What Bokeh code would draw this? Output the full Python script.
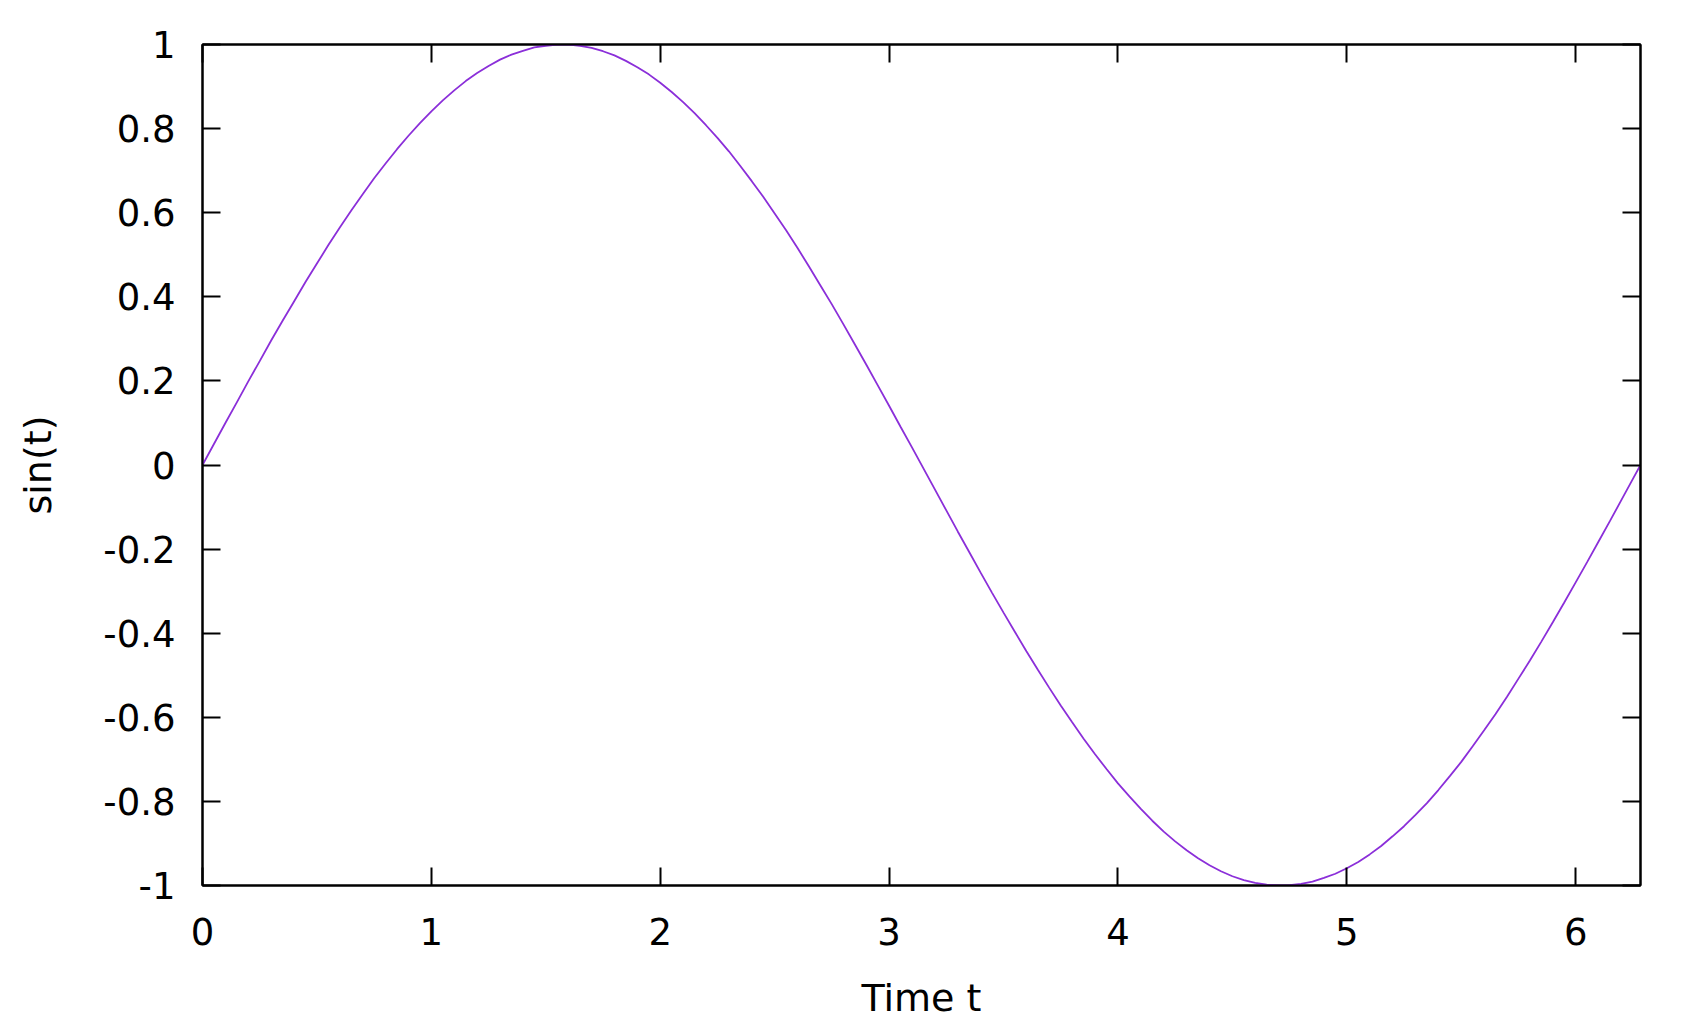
from bokeh.plotting import figure
from bokeh.models import Range1d, FixedTicker, LinearAxis
from bokeh.embed import file_html
from bokeh.resources import INLINE

# Data: time t and sin(t)
t_values = [0.00, 0.05, 0.10, 0.15, 0.20, 0.25, 0.30, 0.35, 0.40, 0.45, 0.50, 0.55,
            0.60, 0.65, 0.70, 0.75, 0.80, 0.85, 0.90, 0.95, 1.00, 1.05, 1.10, 1.15,
            1.20, 1.25, 1.30, 1.35, 1.40, 1.45, 1.50, 1.55, 1.571, 1.60, 1.65, 1.70,
            1.75, 1.80, 1.85, 1.90, 1.95, 2.00, 2.05, 2.10, 2.15, 2.20, 2.25, 2.30,
            2.35, 2.40, 2.45, 2.50, 2.55, 2.60, 2.65, 2.70, 2.75, 2.80, 2.85, 2.90,
            2.95, 3.00, 3.05, 3.10, 3.15, 3.20, 3.25, 3.30, 3.35, 3.40, 3.45, 3.50,
            3.55, 3.60, 3.65, 3.70, 3.75, 3.80, 3.85, 3.90, 3.95, 4.00, 4.05, 4.10,
            4.15, 4.20, 4.25, 4.30, 4.35, 4.40, 4.45, 4.50, 4.55, 4.60, 4.65, 4.70,
            4.712, 4.75, 4.80, 4.85, 4.90, 4.95, 5.00, 5.05, 5.10, 5.15, 5.20, 5.25,
            5.30, 5.35, 5.40, 5.45, 5.50, 5.55, 5.60, 5.65, 5.70, 5.75, 5.80, 5.85,
            5.90, 5.95, 6.00, 6.05, 6.10, 6.15, 6.20, 6.25, 6.2832]
sin_values = [0.000, 0.050, 0.100, 0.149, 0.199, 0.247, 0.296, 0.343, 0.389, 0.435,
              0.479, 0.523, 0.565, 0.605, 0.644, 0.682, 0.717, 0.751, 0.783, 0.813,
              0.841, 0.867, 0.891, 0.913, 0.932, 0.949, 0.964, 0.976, 0.985, 0.993,
              0.997, 1.000, 1.000, 1.000, 0.997, 0.992, 0.984, 0.974, 0.961, 0.946,
              0.929, 0.909, 0.887, 0.863, 0.837, 0.808, 0.778, 0.746, 0.711, 0.675,
              0.638, 0.598, 0.558, 0.516, 0.472, 0.427, 0.382, 0.335, 0.287, 0.239,
              0.190, 0.141, 0.091, 0.042, -0.008, -0.058, -0.108, -0.158, -0.207,
              -0.256, -0.304, -0.351, -0.397, -0.443, -0.487, -0.530, -0.572, -0.612,
              -0.651, -0.688, -0.723, -0.757, -0.788, -0.818, -0.846, -0.872, -0.895,
              -0.916, -0.935, -0.952, -0.966, -0.978, -0.987, -0.994, -0.998, -1.000,
              -1.000, -0.999, -0.996, -0.991, -0.982, -0.972, -0.959, -0.944, -0.926,
              -0.906, -0.883, -0.859, -0.832, -0.804, -0.773, -0.740, -0.706, -0.669,
              -0.631, -0.592, -0.551, -0.508, -0.465, -0.420, -0.374, -0.327, -0.279,
              -0.231, -0.182, -0.133, -0.083, -0.033, 0.000]

x_ticks = [0, 1, 2, 3, 4, 5, 6]
x_tick_labels = ["0", "1", "2", "3", "4", "5", "6"]
y_ticks = [-1, -0.8, -0.6, -0.4, -0.2, 0, 0.2, 0.4, 0.6, 0.8, 1]
y_tick_labels = ["-1", "-0.8", "-0.6", "-0.4", "-0.2", "0", "0.2", "0.4", "0.6", "0.8", "1"]

FONT = "DejaVu Sans"
TICK_FS = "37px"
LABEL_FS = "38px"

p = figure(width=1686, height=1022, output_backend="svg", toolbar_location=None,
           x_range=Range1d(0, 6.2832), y_range=Range1d(-1, 1),
           min_border_left=202, min_border_top=44, min_border_right=46, min_border_bottom=60)
p.grid.visible = False
p.outline_line_color = "black"
p.outline_line_width = 2
p.background_fill_color = "white"
p.border_fill_color = "white"

p.line(t_values, sin_values, line_color="#8b2fd9", line_width=1.8)

def style(ax, ticks, labels, show_labels=True):
    ax.ticker = FixedTicker(ticks=ticks)
    ax.minor_tick_line_color = None
    ax.major_tick_in = 18
    ax.major_tick_out = 0
    ax.major_tick_line_width = 2
    ax.major_tick_line_color = "black"
    ax.axis_line_color = "black"
    ax.axis_line_width = 2
    ax.major_label_text_font = FONT
    ax.major_label_text_color = "black"
    ax.major_label_text_font_size = TICK_FS
    if show_labels:
        ax.major_label_overrides = {k: v for k, v in zip(ticks, labels)}
    else:
        ax.major_label_overrides = {k: "" for k in ticks}
        ax.major_label_standoff = 0

xa = p.xaxis[0]
style(xa, x_ticks, x_tick_labels)
xa.major_label_standoff = 32
xa.axis_label = "Time t"
xa.axis_label_text_font = FONT
xa.axis_label_text_font_size = LABEL_FS
xa.axis_label_text_font_style = "normal"
xa.axis_label_text_color = "black"
xa.axis_label_standoff = 28

ya = p.yaxis[0]
style(ya, y_ticks, y_tick_labels)
ya.major_label_standoff = 27
ya.axis_label = "sin(t)"
ya.axis_label_text_font = FONT
ya.axis_label_text_font_size = LABEL_FS
ya.axis_label_text_font_style = "normal"
ya.axis_label_text_color = "black"
ya.axis_label_standoff = 40

top = LinearAxis()
style(top, x_ticks, x_tick_labels, show_labels=False)
p.add_layout(top, "above")
right = LinearAxis()
style(right, y_ticks, y_tick_labels, show_labels=False)
p.add_layout(right, "right")

open("out.html", "w").write(file_html(p, INLINE))
